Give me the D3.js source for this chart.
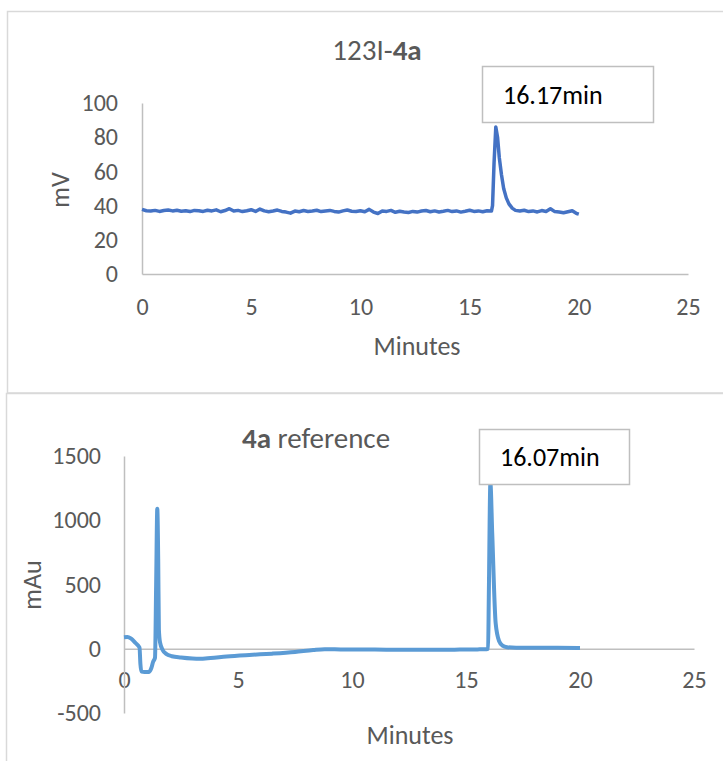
<!DOCTYPE html>
<html>
<head>
<meta charset="utf-8">
<script src="https://cdn.jsdelivr.net/npm/d3@7"></script>
<style>
  body { margin: 0; background: #fff; }
  svg { font-family: Carlito, Calibri, Lato, sans-serif; }
</style>
</head>
<body>
<script>
//////////////////////////////////////////////
// Data //////////////////////////////////////
//////////////////////////////////////////////
// radio trace (123I-4a), minutes / mV
var radioTime = [
	0.0, 0.2, 0.4, 0.6, 0.8, 1.0, 1.2, 1.4, 1.6, 1.8,
	2.0, 2.2, 2.4, 2.6, 2.8, 3.0, 3.2, 3.4, 3.6, 3.8,
	4.0, 4.2, 4.4, 4.6, 4.8, 5.0, 5.2, 5.4, 5.6, 5.8,
	6.0, 6.2, 6.4, 6.6, 6.8, 7.0, 7.2, 7.4, 7.6, 7.8,
	8.0, 8.2, 8.4, 8.6, 8.8, 9.0, 9.2, 9.4, 9.6, 9.8,
	10.0, 10.2, 10.4, 10.6, 10.8, 11.0, 11.2, 11.4, 11.6, 11.8,
	12.0, 12.2, 12.4, 12.6, 12.8, 13.0, 13.2, 13.4, 13.6, 13.8,
	14.0, 14.2, 14.4, 14.6, 14.8, 15.0, 15.2, 15.4, 15.6, 15.8,
	16.0, 16.05, 16.12, 16.2, 16.28, 16.36, 16.46, 16.56, 16.68, 16.8,
	16.95, 17.1, 17.3, 17.5, 17.7, 17.9, 18.1, 18.3, 18.5, 18.7,
	18.9, 19.1, 19.3, 19.5, 19.7, 19.9, 20.0
];
var radioMv = [
	37.8, 37.0, 36.8, 37.2, 36.6, 37.1, 37.4, 36.9, 37.3, 36.7,
	37.0, 36.5, 37.2, 37.0, 36.6, 37.3, 36.9, 37.5, 36.4, 37.1,
	38.2, 36.8, 37.2, 36.5, 37.0, 37.6, 36.6, 38.0, 36.9, 36.4,
	36.8, 37.4, 36.6, 36.2, 35.6, 36.8, 36.4, 37.1, 36.6, 36.9,
	37.3, 36.5, 36.9, 37.2, 36.6, 36.2, 36.9, 37.4, 36.7, 36.5,
	37.0, 36.4, 37.8, 36.2, 35.4, 36.9, 36.6, 37.2, 36.1, 36.7,
	36.3, 36.0, 36.6, 36.2, 36.8, 37.1, 36.4, 36.9, 36.3, 36.7,
	37.2, 36.5, 36.9, 36.2, 36.7, 37.3, 36.6, 36.9, 36.4, 37.0,
	36.8, 40.0, 65.0, 86.0, 80.0, 68.0, 58.0, 50.0, 44.5, 41.0,
	38.5, 37.2, 36.8, 37.3, 36.5, 36.9, 36.3, 37.1, 36.6, 38.2,
	36.5, 36.2, 35.8, 36.4, 37.0, 35.4, 35.0
];

// UV trace (4a reference), minutes / mAu
var uvTime = [
	0, 0.15, 0.3, 0.5, 0.68, 0.72, 0.76, 0.9, 1.1, 1.2,
	1.28, 1.36, 1.41, 1.46, 1.5, 1.53, 1.58, 1.7, 1.85, 2.1,
	2.5, 3.0, 3.3, 3.8, 4.5, 5.5, 6.5, 7.5, 8.3, 8.8,
	9.5, 10.5, 11.5, 12.5, 13.5, 14.5, 15.5, 15.9, 15.97, 16.0,
	16.07, 16.15, 16.3, 16.45, 16.6, 16.8, 17.2, 18, 19, 20
];
var uvMau = [
	90, 92, 80, 45, 10, -120, -178, -180, -180, -150,
	-100, -70, 500, 1090, 700, 150, 50, -10, -40, -58,
	-68, -76, -78, -72, -60, -48, -38, -25, -10, -4,
	-5, -6, -7, -8, -8, -7, -5, -3, 0, 400,
	1290, 900, 200, 60, 25, 12, 8, 8, 7, 5
];

// ticks and labels
var xTicks = [0, 5, 10, 15, 20, 25];
var radioYTicks = [0, 20, 40, 60, 80, 100];
var uvYTicks = [-500, 0, 500, 1000, 1500];
var radioPeakLabel = "16.17min";
var uvPeakLabel = "16.07min";

//////////////////////////////////////////////
// Chart Config /////////////////////////////
//////////////////////////////////////////////
var width = 723, height = 761;
var axisColor = "#bfbfbf", textColor = "#595959";

var svg = d3.select("body").append("svg")
	.attr("width", width)
	.attr("height", height);

// panel frames (they run off the right / bottom edge of the picture)
svg.append("rect")
	.attr("x", 7.5).attr("y", 11.5)
	.attr("width", 730).attr("height", 381.5)
	.attr("fill", "none").attr("stroke", "#d9d9d9").attr("stroke-width", 1.5);
svg.append("rect")
	.attr("x", 6.5).attr("y", 393.5)
	.attr("width", 730).attr("height", 400)
	.attr("fill", "none").attr("stroke", "#d9d9d9").attr("stroke-width", 1.5);

// plain hyphen for negatives, like the original
var tickFmt = function(d) { return String(d); };

function drawPanel(cfg) {
	var g = svg.append("g");

	var xScale = d3.scaleLinear().domain([0, 25]).range(cfg.xRange);
	var yScale = d3.scaleLinear().domain(cfg.yDomain).range(cfg.yRange);

	// x axis sits on y = 0
	var xAxisEl = g.append("g")
		.attr("transform", "translate(0," + yScale(0) + ")")
		.call(d3.axisBottom(xScale).tickValues(xTicks).tickSize(0).tickFormat(tickFmt));
	xAxisEl.selectAll("text")
		.attr("y", cfg.xLabelY - yScale(0))
		.attr("dy", "0.35em");

	var yAxisEl = g.append("g")
		.attr("transform", "translate(" + xScale(0) + ",0)")
		.call(d3.axisLeft(yScale).tickValues(cfg.yTicks).tickSize(0).tickPadding(cfg.yPad).tickFormat(tickFmt));

	[xAxisEl, yAxisEl].forEach(function(a) {
		a.select(".domain").attr("stroke", axisColor).attr("stroke-width", 1.5);
		a.selectAll("text")
			.attr("fill", textColor)
			.style("font-size", "24px")
			.style("font-family", "Carlito, Calibri, Lato, sans-serif");
	});

	// trace
	var pts = cfg.time.map(function(t, i) { return [t, cfg.values[i]]; });
	var line = d3.line()
		.x(function(d) { return xScale(d[0]); })
		.y(function(d) { return yScale(d[1]); })
		.curve(cfg.curve);
	g.append("path").datum(pts)
		.attr("d", line)
		.attr("fill", "none")
		.attr("stroke", cfg.color)
		.attr("stroke-width", cfg.lineWidth)
		.attr("stroke-linejoin", "round");

	// title
	var title = g.append("text")
		.attr("x", cfg.titleX).attr("y", cfg.titleY)
		.attr("dy", "0.35em")
		.attr("text-anchor", "middle")
		.attr("fill", textColor)
		.style("font-size", "29px");
	cfg.title.forEach(function(p) {
		title.append("tspan").text(p.t).style("font-weight", p.b ? "bold" : "normal");
	});

	// axis titles
	g.append("text")
		.attr("x", cfg.xTitle[0]).attr("y", cfg.xTitle[1])
		.attr("dy", "0.35em")
		.attr("text-anchor", "middle")
		.attr("fill", textColor)
		.style("font-size", "26px")
		.text("Minutes");
	g.append("text")
		.attr("transform", "translate(" + cfg.yTitle[0] + "," + cfg.yTitle[1] + ") rotate(-90)")
		.attr("dy", "0.35em")
		.attr("text-anchor", "middle")
		.attr("fill", textColor)
		.style("font-size", "26px")
		.text(cfg.yLabel);

	// peak label box
	var b = cfg.box;
	g.append("rect")
		.attr("x", b[0]).attr("y", b[1])
		.attr("width", b[2]).attr("height", b[3])
		.attr("fill", "#fff")
		.attr("stroke", axisColor).attr("stroke-width", 1.5);
	g.append("text")
		.attr("x", b[4]).attr("y", b[1] + b[3] / 2)
		.attr("dy", "0.35em")
		.attr("fill", "#000")
		.style("font-size", "26px")
		.text(cfg.peakLabel);
}

//////////////////////////////////////////////
// Drawing ///////////////////////////////////
//////////////////////////////////////////////
drawPanel({
	time: radioTime, values: radioMv,
	xRange: [142, 688], yDomain: [0, 100], yRange: [274, 103],
	yTicks: radioYTicks, yPad: 24, xLabelY: 307,
	color: "#4472c4", lineWidth: 3.5, curve: d3.curveLinear,
	title: [{t: "123I-"}, {t: "4a", b: true}], titleX: 377, titleY: 50,
	xTitle: [417, 346], yTitle: [60, 190], yLabel: "mV",
	box: [482.5, 66.5, 171, 56, 503], peakLabel: radioPeakLabel
});

drawPanel({
	time: uvTime, values: uvMau,
	xRange: [124, 694], yDomain: [-500, 1500], yRange: [713, 456],
	yTicks: uvYTicks, yPad: 23, xLabelY: 680,
	color: "#5b9bd5", lineWidth: 4, curve: d3.curveMonotoneX,
	title: [{t: "4a", b: true}, {t: " reference"}], titleX: 316, titleY: 438,
	xTitle: [410, 735], yTitle: [32, 585], yLabel: "mAu",
	box: [479.5, 429.5, 150, 55, 500], peakLabel: uvPeakLabel
});
</script>
</body>
</html>
